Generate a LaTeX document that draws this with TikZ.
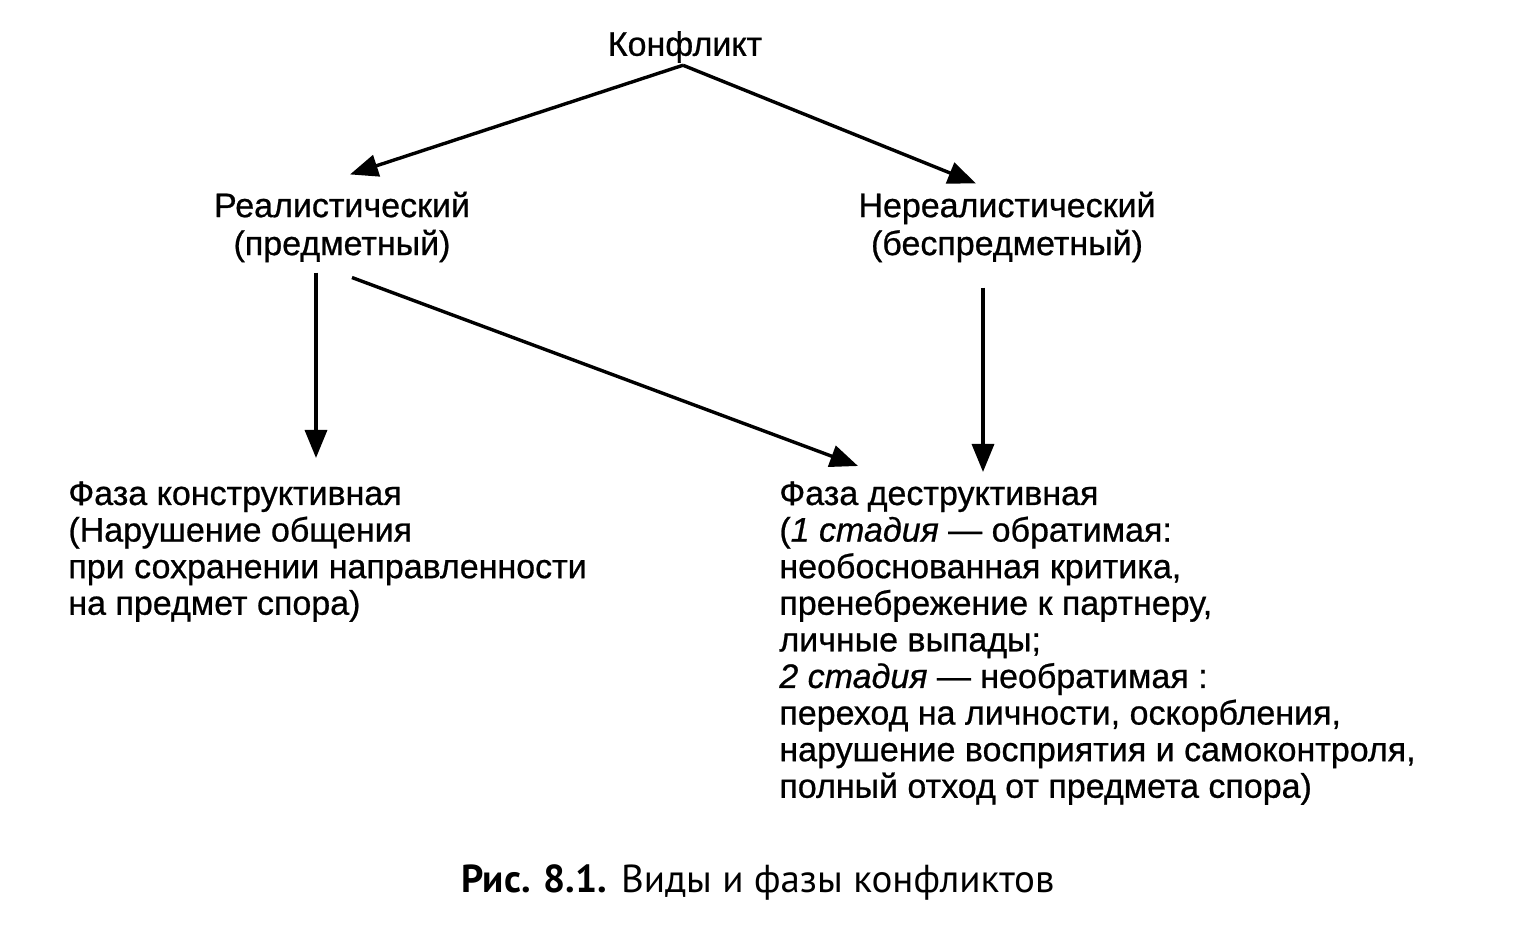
\documentclass[tikz,border=0pt]{standalone}
\usepackage{fontspec}
\setmainfont[FakeBold=0.7]{Liberation Sans}
\newfontfamily\capfont{PT Sans}
\usetikzlibrary{arrows.meta,calc}
\begin{document}
\begin{tikzpicture}[x=0.5pt,y=-0.5pt,
  lbl/.style={inner sep=0pt,font=\fontsize{17}{19}\selectfont,align=center},
  blk/.style={inner sep=0pt,font=\fontsize{17}{18.3}\selectfont,align=left,anchor=north west},
  arr/.style={line width=1.7pt,-{Triangle[length=14pt,width=11pt]}}]
\useasboundingbox[fill=white] (0,0) rectangle (1527,940);
\node[lbl] (konf) at (685,47) {Конфликт};
\node[lbl] (real) at (342,227) {Реалистический\\(предметный)};
\node[lbl] (nereal) at (1007,227) {Нереалистический\\(беспредметный)};
\node[blk] (constr) at (68,481) {Фаза конструктивная\\(Нарушение общения\\при сохранении направленности\\на предмет спора)};
\node[blk] (destr) at (779,481) {Фаза деструктивная\\(\textit{1 стадия} — обратимая:\\необоснованная критика,\\пренебрежение к партнеру,\\личные выпады;\\\textit{2 стадия} — необратимая :\\переход на личности, оскорбления,\\нарушение восприятия и самоконтроля,\\полный отход от предмета спора)};
\node[inner sep=0pt,font=\capfont\fontsize{19.5}{22}\selectfont] (cap) at (758,882) {\textbf{Рис. 8.1.} Виды и фазы конфликтов};
\draw[arr] ($(konf.south)+(-2,2)$) -- ($(real.north)+(8,-17)$);
\draw[arr] ($(konf.south)+(-2,2)$) -- ($(nereal.north)+(-31,-8)$);
\draw[arr] ($(real.south)+(-26,10)$) -- ($(constr.north west)+(248,-23)$);
\draw[arr] ($(real.south)+(10,15)$) -- ($(destr.north west)+(79,-15)$);
\draw[arr] ($(nereal.south)+(-24,25)$) -- ($(destr.north west)+(204,-9)$);
\end{tikzpicture}
\end{document}
